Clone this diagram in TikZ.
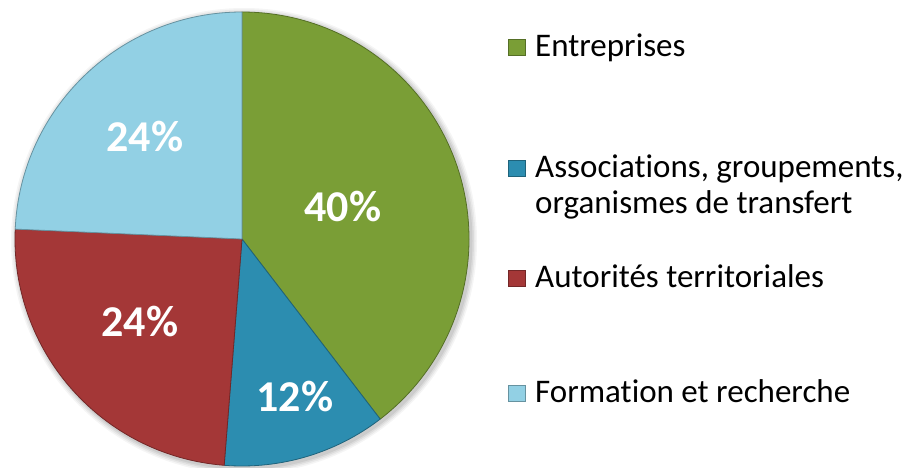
\documentclass[tikz,border=0pt]{standalone}
\usepackage{fontspec}
\setmainfont{Carlito}[Ligatures=NoCommon]
\definecolor{cGreen}{RGB}{122,158,54}
\definecolor{cBlue}{RGB}{44,141,176}
\definecolor{cRed}{RGB}{164,55,55}
\definecolor{cLight}{RGB}{146,208,228}
\tikzset{
  slice/.style={line width=0.8pt, line join=round},
  pct/.style={text=white, font=\fontsize{44}{44}\selectfont\bfseries, inner sep=0pt},
  marker/.style={minimum width=17pt, minimum height=16pt, inner sep=0pt, line width=0.6pt},
  legtext/.style={anchor=base west, inner sep=0pt, font=\fontsize{33}{36}\selectfont, text=black}
}
\begin{document}
\begin{tikzpicture}[x=1pt,y=-1pt]
\useasboundingbox (0,0) rectangle (913,467);
\begin{scope}[shift={(242,239)}, y=1pt]
  % soft shadow
  \foreach \o/\a in {6/0.04,4.5/0.05,3/0.06,1.5/0.07}{
    \fill[black, opacity=\a] (2,-2) circle[radius=227+\o];
  }
  \def\R{227}
  \filldraw[slice, fill=cGreen, draw=cGreen!70!black] (0,0) -- (90:\R) arc[start angle=90, end angle=-52.5, radius=\R] -- cycle;
  \filldraw[slice, fill=cBlue, draw=cBlue!70!black] (0,0) -- (-52.5:\R) arc[start angle=-52.5, end angle=-94.5, radius=\R] -- cycle;
  \filldraw[slice, fill=cRed, draw=cRed!70!black] (0,0) -- (-94.5:\R) arc[start angle=-94.5, end angle=-182.5, radius=\R] -- cycle;
  \filldraw[slice, fill=cLight, draw=cLight!70!black] (0,0) -- (-182.5:\R) arc[start angle=-182.5, end angle=-270, radius=\R] -- cycle;
  \node[pct] (pG) at (101,32) {40\%};
  \node[pct] (pL) at (-97,102) {24\%};
  \node[pct] (pR) at (-102,-83) {24\%};
  \node[pct] (pB) at (53,-158) {12\%};
\end{scope}
% legend
\node[marker, fill=cGreen, draw=cGreen!70!black] (m1) at (517,47) {};
\node[legtext] (t1) at (535,56) {Entreprises};
\node[marker, fill=cBlue, draw=cBlue!70!black] (m2) at (517,168) {};
\node[legtext] (t2) at (535,177) {Associations, groupements,};
\node[legtext] (t2b) at (535,213) {organismes de transfert};
\node[marker, fill=cRed, draw=cRed!70!black] (m3) at (517,278) {};
\node[legtext] (t3) at (535,287) {Autorités territoriales};
\node[marker, fill=cLight, draw=cLight!70!black] (m4) at (517,393) {};
\node[legtext] (t4) at (535,402) {Formation et recherche};
\end{tikzpicture}
\end{document}
